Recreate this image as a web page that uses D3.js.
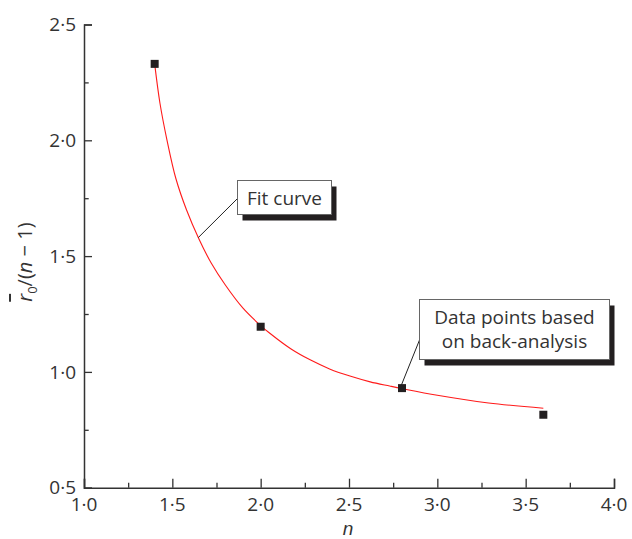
<!DOCTYPE html>
<html>
<head>
<meta charset="utf-8">
<script src="https://cdn.jsdelivr.net/npm/d3@7"></script>
<style>
  html, body { margin: 0; padding: 0; background: #fff; }
  svg { display: block; }
  text { font-family: "Open Sans", "Noto Sans", sans-serif; fill: #333; }
</style>
</head>
<body>
<svg id="chart" width="632" height="539"></svg>
<script>
// Back-analysis data points
const pointN = [1.4, 2.0, 2.8, 3.6];
const pointR = [2.33, 1.195, 0.93, 0.815];

// Fitted curve, sampled along n
const fitN = [1.40, 1.43, 1.47, 1.52, 1.58, 1.65, 1.72, 1.80, 1.90, 2.00, 2.05, 2.17, 2.28, 2.39, 2.51, 2.62, 2.73, 2.80, 3.00, 3.29, 3.60];
const fitR = [2.33, 2.16, 2.00, 1.835, 1.70, 1.575, 1.47, 1.375, 1.275, 1.20, 1.168, 1.10, 1.052, 1.013, 0.981, 0.957, 0.939, 0.928, 0.899, 0.866, 0.843];

// Axis ticks
const xMajor = [1.0, 1.5, 2.0, 2.5, 3.0, 3.5, 4.0];
const xMinor = [1.25, 1.75, 2.25, 2.75, 3.25, 3.75];
const yMajor = [0.5, 1.0, 1.5, 2.0, 2.5];
const yMinor = [0.75, 1.25, 1.75, 2.25];

const svg = d3.select("#chart");
const margin = { left: 84, right: 18, top: 24.5, bottom: 51.3 };
const W = 632, H = 539;

const x = d3.scaleLinear().domain([1, 4]).range([margin.left, W - margin.right]);
const y = d3.scaleLinear().domain([0.5, 2.5]).range([H - margin.bottom, margin.top]);

const fmt = d => d.toFixed(1).replace(".", "\u00B7");
const axisColor = "#333";

// Bottom axis: ticks point inward, labels drawn separately
const gx = svg.append("g").attr("transform", `translate(0,${y(0.5)})`);
gx.call(d3.axisTop(x).tickValues(xMajor).tickSize(9).tickFormat(""));
gx.append("g").call(d3.axisTop(x).tickValues(xMinor).tickSize(5).tickFormat(""));
gx.selectAll("path.domain").attr("stroke", axisColor).attr("stroke-width", 1.5);
gx.selectAll(".tick line").attr("stroke", axisColor).attr("stroke-width", 1.3);
gx.selectAll("g > g > path.domain").remove();
gx.selectAll(".xlab").data(xMajor).join("text")
  .attr("class", "xlab")
  .attr("x", d => x(d)).attr("y", 23.8)
  .attr("text-anchor", "middle")
  .attr("font-size", 19)
  .text(fmt);

// Left axis
const gy = svg.append("g").attr("transform", `translate(${x(1)},0)`);
gy.call(d3.axisRight(y).tickValues(yMajor).tickSize(8).tickFormat(""));
gy.append("g").call(d3.axisRight(y).tickValues(yMinor).tickSize(4.7).tickFormat(""));
gy.selectAll("path.domain").attr("stroke", axisColor).attr("stroke-width", 1.5);
gy.selectAll(".tick line").attr("stroke", axisColor).attr("stroke-width", 1.3);
gy.selectAll("g > g > path.domain").remove();
gy.selectAll(".ylab").data(yMajor).join("text")
  .attr("class", "ylab")
  .attr("x", -8).attr("y", d => y(d))
  .attr("dy", "0.35em")
  .attr("text-anchor", "end")
  .attr("font-size", 19)
  .text(fmt);

// Axis titles
svg.append("text")
  .attr("x", x(2.5) - 1).attr("y", 534.5)
  .attr("text-anchor", "middle")
  .attr("font-size", 19)
  .attr("font-style", "italic")
  .style("font-family", "'Liberation Sans', sans-serif")
  .text("n");

const yt = svg.append("text")
  .attr("transform", `translate(32,${(y(1.5) + 6)}) rotate(-90)`)
  .attr("text-anchor", "middle")
  .attr("font-size", 20);
yt.append("tspan").attr("font-style", "italic").attr("text-decoration", "overline").text("r");
yt.append("tspan").attr("font-size", 13).attr("dy", 5).text("0");
yt.append("tspan").attr("dy", -5).text("/(");
yt.append("tspan").attr("font-style", "italic").text("n");
yt.append("tspan").text(" \u2212 1)");

// Fit curve
const fitData = fitN.map((n, i) => [n, fitR[i]]);
svg.append("path")
  .datum(fitData)
  .attr("fill", "none")
  .attr("stroke", "#ff1a1a")
  .attr("stroke-width", 1.1)
  .attr("d", d3.line().x(d => x(d[0])).y(d => y(d[1])).curve(d3.curveCatmullRom.alpha(0.5)));

// Data points
const pts = pointN.map((n, i) => [n, pointR[i]]);
svg.selectAll(".pt").data(pts).join("rect")
  .attr("class", "pt")
  .attr("x", d => x(d[0]) - 4).attr("y", d => y(d[1]) - 4)
  .attr("width", 8).attr("height", 8)
  .attr("fill", "#231f20");

// Callout boxes with drop shadows and leader lines
function callout(bx, by, bw, bh, lines, target, anchorY) {
  svg.append("line")
    .attr("x1", bx).attr("y1", anchorY)
    .attr("x2", target[0]).attr("y2", target[1])
    .attr("stroke", "#222").attr("stroke-width", 1);
  svg.append("rect")
    .attr("x", bx + 5).attr("y", by + 6)
    .attr("width", bw).attr("height", bh)
    .attr("fill", "#231f20");
  svg.append("rect")
    .attr("x", bx).attr("y", by)
    .attr("width", bw).attr("height", bh)
    .attr("fill", "#fff").attr("stroke", "#666").attr("stroke-width", 1);
  const t = svg.append("text")
    .attr("text-anchor", "middle")
    .attr("font-size", 19);
  lines.forEach((s, i) => {
    t.append("tspan")
      .attr("x", bx + bw / 2)
      .attr("y", by + 24 + i * 24)
      .text(s);
  });
}

callout(237.5, 180.5, 94, 34, ["Fit curve"], [x(1.647), y(1.58)], 198.5);
callout(419.5, 299.5, 190, 60, ["Data points based", "on back-analysis"], [x(2.795), y(0.94)], 340);
</script>
</body>
</html>
